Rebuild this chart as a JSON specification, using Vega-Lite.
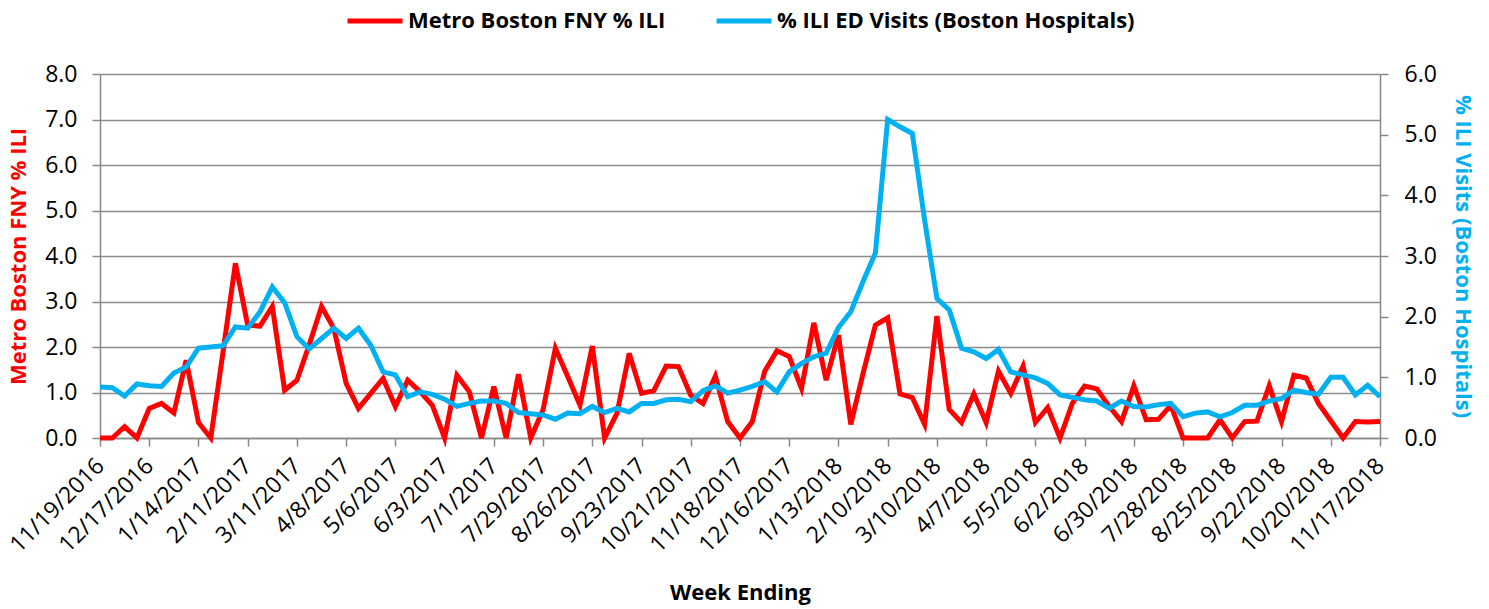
{
  "$schema": "https://vega.github.io/schema/vega-lite/v6.json",
  "width": 1280,
  "height": 364,
  "autosize": "none",
  "padding": {"left": 100, "top": 74, "right": 109, "bottom": 171},
  "background": "white",
  "config": {
    "view": {"stroke": null},
    "font": "Open Sans",
    "axis": {
      "domainColor": "#888888",
      "domainWidth": 1.5,
      "tickColor": "#888888",
      "tickWidth": 1.5,
      "tickSize": 8,
      "gridColor": "#8c8c8c",
      "gridWidth": 1.5,
      "labelFont": "Open Sans",
      "labelFontSize": 23,
      "labelColor": "#000000",
      "titleFont": "Open Sans",
      "titleFontSize": 22,
      "titleFontWeight": "bold",
      "titleColor": "#000000"
    },
    "legend": {
      "orient": "none",
      "legendX": 245,
      "legendY": -83,
      "direction": "horizontal",
      "symbolType": "stroke",
      "symbolSize": 3025,
      "symbolStrokeWidth": 5,
      "labelFont": "Open Sans",
      "labelFontSize": 22,
      "labelFontWeight": "bold",
      "labelColor": "#000000",
      "labelOffset": 3,
      "columnPadding": 40,
      "labelLimit": 600
    }
  },
  "data": {
    "values": [
      {"week": "11/19/2016", "fny": 0.00, "ed": 0.84},
      {"week": "11/26/2016", "fny": 0.00, "ed": 0.83},
      {"week": "12/3/2016", "fny": 0.25, "ed": 0.69},
      {"week": "12/10/2016", "fny": 0.00, "ed": 0.89},
      {"week": "12/17/2016", "fny": 0.65, "ed": 0.86},
      {"week": "12/24/2016", "fny": 0.76, "ed": 0.85},
      {"week": "12/31/2016", "fny": 0.55, "ed": 1.07},
      {"week": "1/7/2017", "fny": 1.71, "ed": 1.17},
      {"week": "1/14/2017", "fny": 0.34, "ed": 1.48},
      {"week": "1/21/2017", "fny": 0.00, "ed": 1.50},
      {"week": "1/28/2017", "fny": 1.90, "ed": 1.52},
      {"week": "2/4/2017", "fny": 3.84, "ed": 1.83},
      {"week": "2/11/2017", "fny": 2.48, "ed": 1.81},
      {"week": "2/18/2017", "fny": 2.46, "ed": 2.08},
      {"week": "2/25/2017", "fny": 2.89, "ed": 2.49},
      {"week": "3/4/2017", "fny": 1.05, "ed": 2.23},
      {"week": "3/11/2017", "fny": 1.27, "ed": 1.67},
      {"week": "3/18/2017", "fny": 2.05, "ed": 1.47},
      {"week": "3/25/2017", "fny": 2.89, "ed": 1.64},
      {"week": "4/1/2017", "fny": 2.41, "ed": 1.81},
      {"week": "4/8/2017", "fny": 1.20, "ed": 1.64},
      {"week": "4/15/2017", "fny": 0.65, "ed": 1.81},
      {"week": "4/22/2017", "fny": 0.98, "ed": 1.53},
      {"week": "4/29/2017", "fny": 1.31, "ed": 1.09},
      {"week": "5/6/2017", "fny": 0.69, "ed": 1.04},
      {"week": "5/13/2017", "fny": 1.27, "ed": 0.68},
      {"week": "5/20/2017", "fny": 1.02, "ed": 0.76},
      {"week": "5/27/2017", "fny": 0.72, "ed": 0.72},
      {"week": "6/3/2017", "fny": 0.00, "ed": 0.64},
      {"week": "6/10/2017", "fny": 1.38, "ed": 0.52},
      {"week": "6/17/2017", "fny": 1.02, "ed": 0.57},
      {"week": "6/24/2017", "fny": 0.00, "ed": 0.61},
      {"week": "7/1/2017", "fny": 1.13, "ed": 0.61},
      {"week": "7/8/2017", "fny": 0.00, "ed": 0.57},
      {"week": "7/15/2017", "fny": 1.40, "ed": 0.42},
      {"week": "7/22/2017", "fny": 0.00, "ed": 0.40},
      {"week": "7/29/2017", "fny": 0.62, "ed": 0.38},
      {"week": "8/5/2017", "fny": 1.97, "ed": 0.31},
      {"week": "8/12/2017", "fny": 1.35, "ed": 0.41},
      {"week": "8/19/2017", "fny": 0.72, "ed": 0.40},
      {"week": "8/26/2017", "fny": 2.02, "ed": 0.52},
      {"week": "9/2/2017", "fny": 0.00, "ed": 0.42},
      {"week": "9/9/2017", "fny": 0.54, "ed": 0.49},
      {"week": "9/16/2017", "fny": 1.86, "ed": 0.43},
      {"week": "9/23/2017", "fny": 0.98, "ed": 0.57},
      {"week": "9/30/2017", "fny": 1.04, "ed": 0.57},
      {"week": "10/7/2017", "fny": 1.58, "ed": 0.63},
      {"week": "10/14/2017", "fny": 1.57, "ed": 0.64},
      {"week": "10/21/2017", "fny": 0.94, "ed": 0.60},
      {"week": "10/28/2017", "fny": 0.76, "ed": 0.78},
      {"week": "11/4/2017", "fny": 1.36, "ed": 0.86},
      {"week": "11/11/2017", "fny": 0.36, "ed": 0.74},
      {"week": "11/18/2017", "fny": 0.00, "ed": 0.79},
      {"week": "11/25/2017", "fny": 0.36, "ed": 0.85},
      {"week": "12/2/2017", "fny": 1.46, "ed": 0.93},
      {"week": "12/9/2017", "fny": 1.92, "ed": 0.76},
      {"week": "12/16/2017", "fny": 1.79, "ed": 1.09},
      {"week": "12/23/2017", "fny": 1.09, "ed": 1.23},
      {"week": "12/30/2017", "fny": 2.53, "ed": 1.34},
      {"week": "1/6/2018", "fny": 1.27, "ed": 1.40},
      {"week": "1/13/2018", "fny": 2.26, "ed": 1.82},
      {"week": "1/20/2018", "fny": 0.30, "ed": 2.08},
      {"week": "1/27/2018", "fny": 1.42, "ed": 2.58},
      {"week": "2/3/2018", "fny": 2.48, "ed": 3.05},
      {"week": "2/10/2018", "fny": 2.64, "ed": 5.25},
      {"week": "2/17/2018", "fny": 0.97, "ed": 5.13},
      {"week": "2/24/2018", "fny": 0.89, "ed": 5.02},
      {"week": "3/3/2018", "fny": 0.30, "ed": 3.59},
      {"week": "3/10/2018", "fny": 2.68, "ed": 2.30},
      {"week": "3/17/2018", "fny": 0.63, "ed": 2.11},
      {"week": "3/24/2018", "fny": 0.34, "ed": 1.48},
      {"week": "3/31/2018", "fny": 0.97, "ed": 1.42},
      {"week": "4/7/2018", "fny": 0.34, "ed": 1.31},
      {"week": "4/14/2018", "fny": 1.47, "ed": 1.46},
      {"week": "4/21/2018", "fny": 0.98, "ed": 1.09},
      {"week": "4/28/2018", "fny": 1.58, "ed": 1.04},
      {"week": "5/5/2018", "fny": 0.34, "ed": 0.99},
      {"week": "5/12/2018", "fny": 0.67, "ed": 0.90},
      {"week": "5/19/2018", "fny": 0.00, "ed": 0.71},
      {"week": "5/26/2018", "fny": 0.76, "ed": 0.67},
      {"week": "6/2/2018", "fny": 1.14, "ed": 0.63},
      {"week": "6/9/2018", "fny": 1.08, "ed": 0.61},
      {"week": "6/16/2018", "fny": 0.69, "ed": 0.49},
      {"week": "6/23/2018", "fny": 0.36, "ed": 0.61},
      {"week": "6/30/2018", "fny": 1.15, "ed": 0.52},
      {"week": "7/7/2018", "fny": 0.40, "ed": 0.51},
      {"week": "7/14/2018", "fny": 0.41, "ed": 0.55},
      {"week": "7/21/2018", "fny": 0.72, "ed": 0.57},
      {"week": "7/28/2018", "fny": 0.00, "ed": 0.35},
      {"week": "8/4/2018", "fny": 0.00, "ed": 0.41},
      {"week": "8/11/2018", "fny": 0.00, "ed": 0.43},
      {"week": "8/18/2018", "fny": 0.40, "ed": 0.35},
      {"week": "8/25/2018", "fny": 0.00, "ed": 0.42},
      {"week": "9/1/2018", "fny": 0.36, "ed": 0.54},
      {"week": "9/8/2018", "fny": 0.37, "ed": 0.54},
      {"week": "9/15/2018", "fny": 1.15, "ed": 0.61},
      {"week": "9/22/2018", "fny": 0.36, "ed": 0.65},
      {"week": "9/29/2018", "fny": 1.38, "ed": 0.79},
      {"week": "10/6/2018", "fny": 1.32, "ed": 0.75},
      {"week": "10/13/2018", "fny": 0.76, "ed": 0.72},
      {"week": "10/20/2018", "fny": 0.38, "ed": 1.00},
      {"week": "10/27/2018", "fny": 0.00, "ed": 1.00},
      {"week": "11/3/2018", "fny": 0.36, "ed": 0.71},
      {"week": "11/10/2018", "fny": 0.35, "ed": 0.87},
      {"week": "11/17/2018", "fny": 0.36, "ed": 0.68}
    ]
  },
  "encoding": {
    "x": {
      "field": "week",
      "type": "ordinal",
      "sort": null,
      "scale": {"type": "point", "padding": 0},
      "axis": {
        "title": "Week Ending",
        "titlePadding": 26,
        "labelAngle": -45,
        "labelAlign": "right",
        "labelBaseline": "middle",
        "labelPadding": 16,
        "grid": false,
        "values": ["11/19/2016", "12/17/2016", "1/14/2017", "2/11/2017", "3/11/2017", "4/8/2017", "5/6/2017", "6/3/2017", "7/1/2017", "7/29/2017", "8/26/2017", "9/23/2017", "10/21/2017", "11/18/2017", "12/16/2017", "1/13/2018", "2/10/2018", "3/10/2018", "4/7/2018", "5/5/2018", "6/2/2018", "6/30/2018", "7/28/2018", "8/25/2018", "9/22/2018", "10/20/2018", "11/17/2018"]
      }
    }
  },
  "layer": [
    {
      "mark": {"type": "line", "strokeWidth": 5, "strokeJoin": "miter"},
      "encoding": {
        "y": {
          "field": "fny",
          "type": "quantitative",
          "scale": {"domain": [0, 8], "nice": false},
          "axis": {
            "orient": "left",
            "title": "Metro Boston FNY % ILI",
            "titleColor": "#FF0000",
            "titlePadding": 14,
            "values": [0, 1, 2, 3, 4, 5, 6, 7, 8],
            "format": ".1f",
            "grid": true,
            "labelPadding": 15
          }
        },
        "color": {
          "datum": "Metro Boston FNY % ILI",
          "scale": {
            "domain": ["Metro Boston FNY % ILI", "% ILI ED Visits (Boston Hospitals)"],
            "range": ["#FF0000", "#00B0F0"]
          },
          "legend": {"title": null}
        }
      }
    },
    {
      "mark": {"type": "line", "strokeWidth": 5, "strokeJoin": "miter"},
      "encoding": {
        "y": {
          "field": "ed",
          "type": "quantitative",
          "scale": {"domain": [0, 6], "nice": false},
          "axis": {
            "orient": "right",
            "title": "% ILI Visits (Boston Hospitals)",
            "titleColor": "#00B0F0",
            "titlePadding": 14,
            "values": [0, 1, 2, 3, 4, 5, 6],
            "format": ".1f",
            "grid": false,
            "labelPadding": 16
          }
        },
        "color": {"datum": "% ILI ED Visits (Boston Hospitals)"}
      }
    }
  ],
  "resolve": {"scale": {"y": "independent"}}
}
